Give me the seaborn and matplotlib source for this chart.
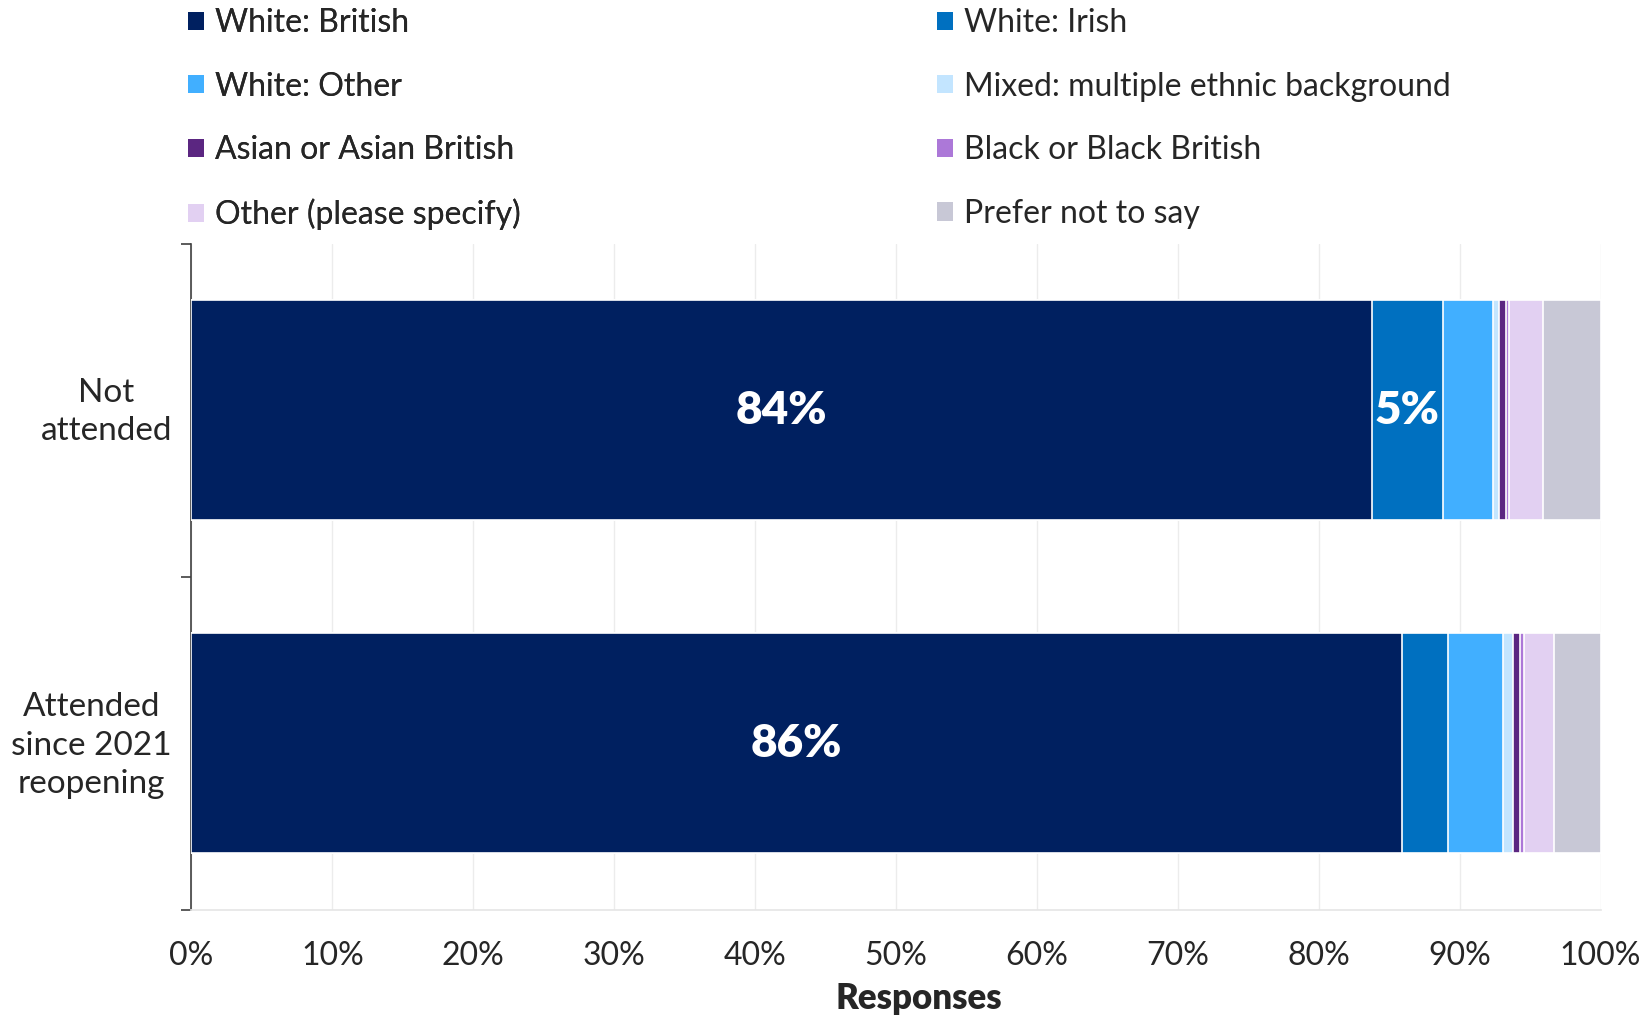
import numpy as np
import pandas as pd
import seaborn as sns
import matplotlib.pyplot as plt
import matplotlib.transforms as mtransforms
from matplotlib.patches import Patch

# dados (percentuais)
grupos = ['Not\nattended', 'Attended\nsince 2021\nreopening']
categorias = ['White: British', 'White: Irish', 'White: Other',
              'Mixed: multiple ethnic background', 'Asian or Asian British',
              'Black or Black British', 'Other (please specify)', 'Prefer not to say']
nao_atendeu = [83.8, 5.0, 3.6, 0.4, 0.5, 0.2, 2.4, 4.1]
atendeu = [85.9, 3.3, 3.9, 0.7, 0.5, 0.3, 2.1, 3.3]
cores = ['#002060', '#0070C0', '#41AFFF', '#C3E5FF', '#5B2681',
         '#AC78D8', '#E2D0F2', '#C8C8D6']

sns.set_theme(style='white')
plt.rcParams['font.family'] = ['Lato', 'DejaVu Sans']

df = pd.DataFrame({'grupo': np.repeat(grupos, len(categorias)),
                   'categoria': categorias * 2,
                   'valor': nao_atendeu + atendeu})
df['acumulado'] = df.groupby('grupo', sort=False)['valor'].cumsum()

fig, ax = plt.subplots(figsize=(16.5, 10.15), dpi=100)
fig.subplots_adjust(left=0.116, right=0.970, top=0.760, bottom=0.1034)

# barras empilhadas: desenhar do acumulado maior para o menor
for cat, cor in reversed(list(zip(categorias, cores))):
    sub = df[df['categoria'] == cat]
    sns.barplot(data=sub, x='acumulado', y='grupo', order=grupos, color=cor,
                orient='h', width=0.66, edgecolor='white', linewidth=1.2,
                saturation=1, ax=ax, zorder=3)

# rótulos dentro das barras
for i, g in enumerate(grupos):
    sub = df[df['grupo'] == g]
    inicio = 0
    for v in sub['valor']:
        if v >= 4.5:
            ax.text(inicio + v / 2, i, f'{v:.0f}%', ha='center', va='center',
                    color='white', fontsize=33, fontweight='heavy', zorder=5)
        inicio += v

ax.set_xlim(0, 100)
ax.set_ylim(1.5, -0.5)
ax.set_xticks(np.arange(0, 101, 10))
ax.set_xticklabels([f'{t}%' for t in range(0, 101, 10)], fontsize=23)
ax.tick_params(axis='x', length=0, pad=22)
ax.set_yticks([0, 1])
ax.set_yticklabels(grupos, fontsize=24, multialignment='center', linespacing=1.34)
ax.tick_params(axis='y', which='major', length=0, pad=14)
ax.set_yticks([-0.5, 0.5, 1.5], minor=True)
ax.tick_params(axis='y', which='minor', left=True, length=7, width=1.2, color='#404040')
# subir um pouco os rótulos do eixo y
desloc = mtransforms.ScaledTranslation(0, 0.05, fig.dpi_scale_trans)
for lbl in ax.get_yticklabels():
    lbl.set_transform(lbl.get_transform() + desloc)
ax.grid(axis='x', color='#ececec', linewidth=1, zorder=0)
ax.set_axisbelow(True)
for s in ['top', 'right']:
    ax.spines[s].set_visible(False)
ax.spines['left'].set_color('#404040')
ax.spines['left'].set_linewidth(1.2)
ax.spines['bottom'].set_color('#e6e6e6')
ax.set_xlabel('Responses', fontsize=25, fontweight='heavy', labelpad=8)
ax.xaxis.label.set_x(0.516)
ax.set_ylabel('')

# legenda em duas colunas
def legenda(idx, x):
    handles = [Patch(facecolor=cores[k], edgecolor='none', label=categorias[k]) for k in idx]
    leg = fig.legend(handles=handles, loc='upper left', bbox_to_anchor=(x, 0.992),
                     frameon=False, fontsize=23, handlelength=0.5, handleheight=0.5,
                     handletextpad=0.35, labelspacing=1.05, borderpad=0, borderaxespad=0)
    return leg

l1 = legenda([0, 2, 4, 6], 0.114)
fig.add_artist(l1)
legenda([1, 3, 5, 7], 0.568)

fig.savefig('out.png', dpi=100)
